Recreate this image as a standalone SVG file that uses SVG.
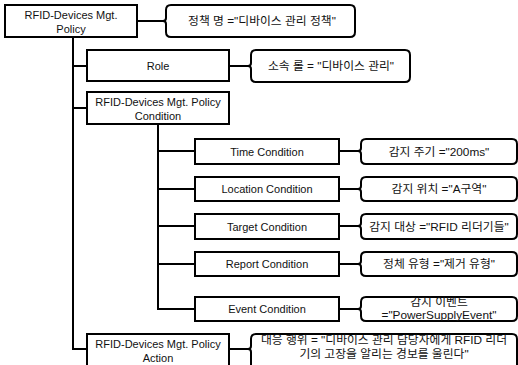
<svg xmlns="http://www.w3.org/2000/svg" width="518" height="365" viewBox="0 0 518 365">
<style>
.box{fill:#fff;stroke:#000;stroke-width:2}
.val{fill:#fff;stroke:#000;stroke-width:2}
.ln{fill:none;stroke:#000;stroke-width:2}
text{font-family:"Liberation Sans","Noto Sans CJK KR",sans-serif;font-size:11px;fill:#111;text-anchor:middle;dominant-baseline:central}
.k{font-size:11.8px}
</style>
<g id="connectors">
<path class="ln" d="M73 37V349H87"/>
<path class="ln" d="M137 21H166"/>
<path class="ln" d="M73 66H87M229 66H250"/>
<path class="ln" d="M73 108H87"/>
<path class="ln" d="M158 124V309H195"/>
<path class="ln" d="M158 151H195M339 151H360"/>
<path class="ln" d="M158 189H195M339 189H360"/>
<path class="ln" d="M158 226H195M339 226H360"/>
<path class="ln" d="M158 264H195M339 264H360"/>
<path class="ln" d="M339 309H360"/>
<path class="ln" d="M229 349H250"/>
</g>
<g id="root"><rect class="box" x="5" y="5" width="132" height="32"/><text x="71" y="15">RFID-Devices Mgt.</text><text x="71" y="29">Policy</text></g>
<g id="root-value"><path class="val" d="M171 5H350Q355 5 355 10V32Q355 37 350 37H171Q166 37 166 32V24Q166 21 163 21Q166 21 166 18V10Q166 5 171 5Z"/><text class="k" x="262" y="21">정책 명 ="디바이스 관리 정책"</text></g>
<g id="role"><rect class="box" x="87" y="50" width="142" height="31"/><text x="158" y="66">Role</text></g>
<g id="role-value"><path class="val" d="M256 50H405Q410 50 410 55V77Q410 82 405 82H256Q251 82 251 77V69Q251 66 248 66Q251 66 251 63V55Q251 50 256 50Z"/><text class="k" x="331" y="66">소속 롤 = "디바이스 관리"</text></g>
<g id="condition"><rect class="box" x="87" y="92" width="142" height="32"/><text x="158" y="102">RFID-Devices Mgt. Policy</text><text x="158" y="116">Condition</text></g>
<g id="time"><rect class="box" x="195" y="139" width="144" height="25"/><text x="267" y="151.5">Time Condition</text></g>
<g id="time-value"><path class="val" d="M366 139H512Q517 139 517 144V159Q517 164 512 164H366Q361 164 361 159V154Q361 151 358 151Q361 151 361 148V144Q361 139 366 139Z"/><text class="k" x="439" y="151.5">감지 주기 ="200ms"</text></g>
<g id="location"><rect class="box" x="195" y="177" width="144" height="24"/><text x="267" y="189">Location Condition</text></g>
<g id="location-value"><path class="val" d="M366 177H512Q517 177 517 182V196Q517 201 512 201H366Q361 201 361 196V192Q361 189 358 189Q361 189 361 186V182Q361 177 366 177Z"/><text class="k" x="439" y="189">감지 위치 ="A구역"</text></g>
<g id="target"><rect class="box" x="195" y="214" width="144" height="25"/><text x="267" y="226.5">Target Condition</text></g>
<g id="target-value"><path class="val" d="M366 214H512Q517 214 517 219V234Q517 239 512 239H366Q361 239 361 234V229Q361 226 358 226Q361 226 361 223V219Q361 214 366 214Z"/><text class="k" x="439" y="226.5">감지 대상 ="RFID 리더기들"</text></g>
<g id="report"><rect class="box" x="195" y="252" width="144" height="24"/><text x="267" y="264">Report Condition</text></g>
<g id="report-value"><path class="val" d="M366 252H512Q517 252 517 257V271Q517 276 512 276H366Q361 276 361 271V267Q361 264 358 264Q361 264 361 261V257Q361 252 366 252Z"/><text class="k" x="439" y="264">정체 유형 ="제거 유형"</text></g>
<g id="event"><rect class="box" x="195" y="297" width="144" height="24"/><text x="267" y="309">Event Condition</text></g>
<g id="event-value"><path class="val" d="M366 297H512Q517 297 517 302V316Q517 321 512 321H366Q361 321 361 316V312Q361 309 358 309Q361 309 361 306V302Q361 297 366 297Z"/><text class="k" x="439" y="302">감지 이벤트</text><text class="k" x="439" y="315">="PowerSupplyEvent"</text></g>
<g id="action"><rect class="box" x="87" y="334" width="142" height="40"/><text x="158" y="344">RFID-Devices Mgt. Policy</text><text x="158" y="358">Action</text></g>
<g id="action-value"><path class="val" d="M256 334H512Q517 334 517 339V370H256Q251 370 251 365V352Q251 349 248 349Q251 349 251 346V339Q251 334 256 334Z"/><text class="k" x="384" y="340">대응 행위 = "디바이스 관리 담당자에게 RFID 리더</text><text class="k" x="384" y="354">기의 고장을 알리는 경보를 울린다"</text></g>
</svg>
